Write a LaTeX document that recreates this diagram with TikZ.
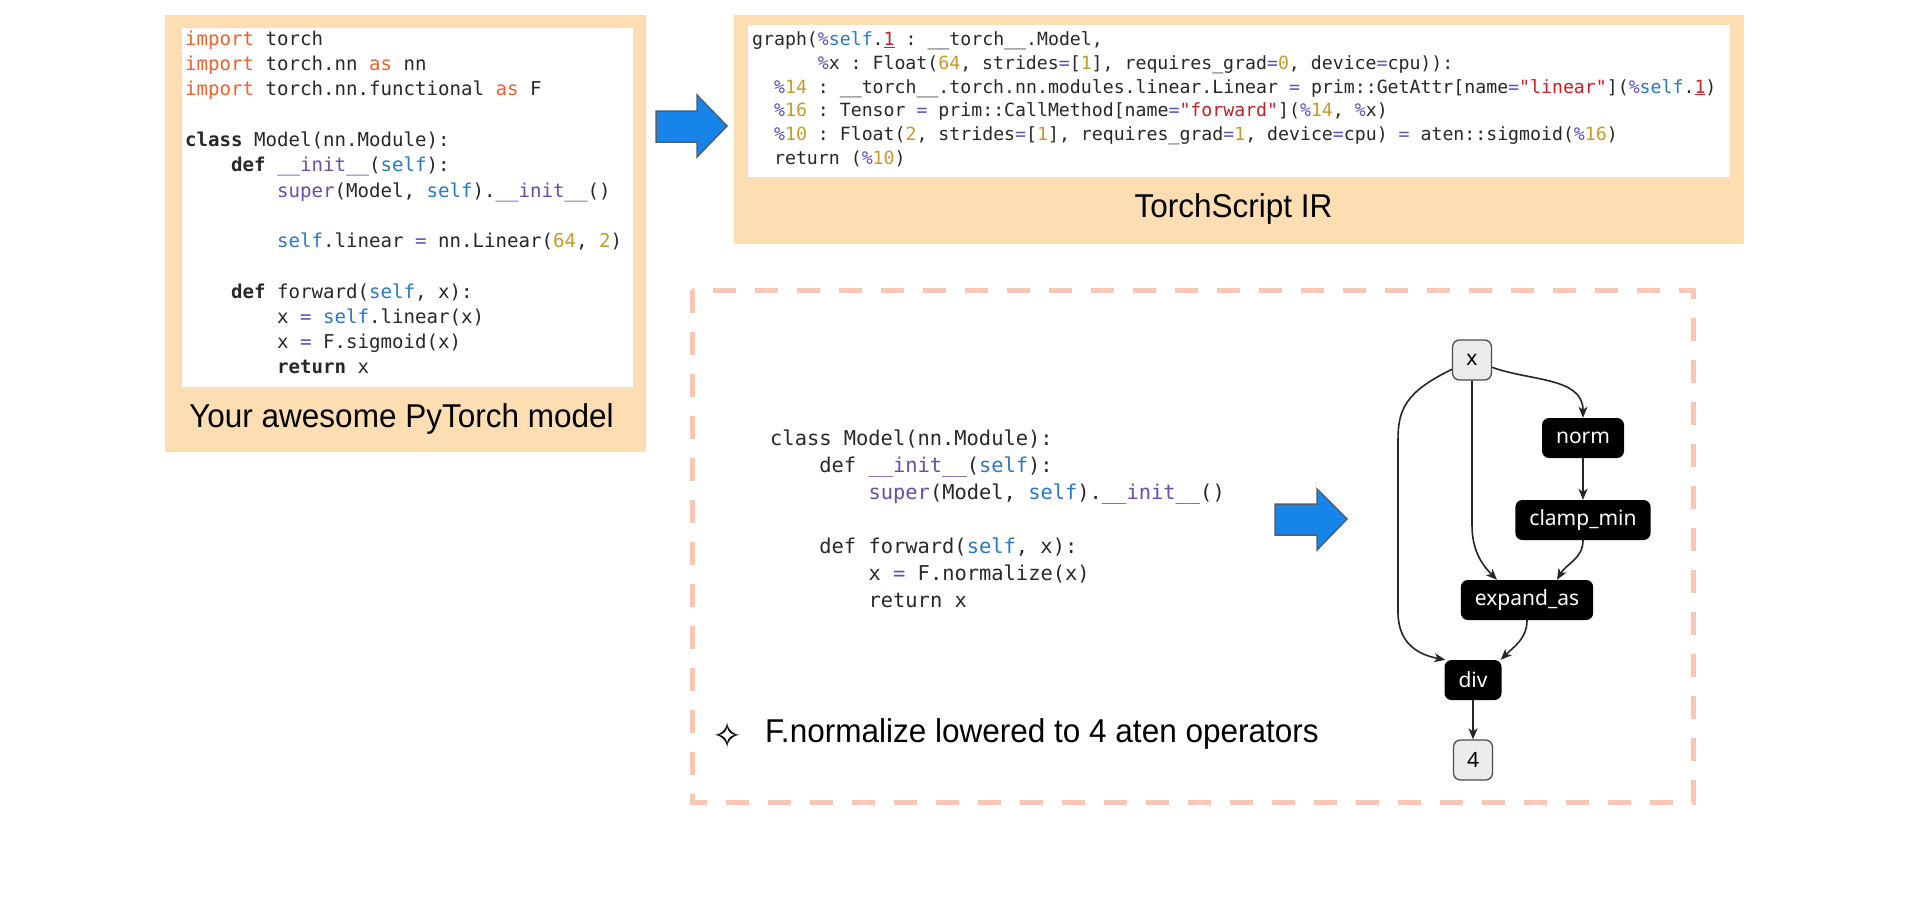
\documentclass[tikz,border=0pt]{standalone}
\usepackage{fontspec}
\usepackage{graphicx}
\setmainfont{Liberation Sans}
\setmonofont{DejaVu Sans Mono}
\newfontfamily\capfont[FakeStretch=0.955]{Liberation Sans}
\newfontfamily\gnodefont{Noto Sans}
\newfontfamily\symfont{DejaVu Sans}
\usetikzlibrary{arrows.meta}
\definecolor{peach}{RGB}{253,222,178}
\definecolor{dashc}{RGB}{249,198,182}
\definecolor{codetxt}{RGB}{40,40,40}
\definecolor{kwor}{RGB}{238,98,46}
\definecolor{purp}{RGB}{106,76,170}
\definecolor{selfb}{RGB}{40,120,200}
\definecolor{numg}{RGB}{200,155,40}
\definecolor{opc}{RGB}{90,80,190}
\definecolor{strr}{RGB}{200,30,40}
\definecolor{arrowblue}{RGB}{22,132,232}
\definecolor{arrowedge}{RGB}{80,96,112}
\definecolor{nodegray}{RGB}{236,236,236}
\newcommand\rskw[1]{\textcolor{kwor}{#1}}
\newcommand\rspur[1]{\textcolor{purp}{#1}}
\newcommand\rsblu[1]{\textcolor{selfb}{#1}}
\newcommand\rsnum[1]{\textcolor{numg}{#1}}
\newcommand\rsop[1]{\textcolor{opc}{#1}}
\newcommand\rsstr[1]{\textcolor{strr}{#1}}
\newcommand\rsul[1]{\textcolor{strr}{\underline{#1}}}
\begin{document}
\begin{tikzpicture}[x=1pt,y=1pt,
  codeL/.style={anchor=base west, inner sep=0pt, text=codetxt, font=\ttfamily\fontsize{19.1}{23}\selectfont},
  codeI/.style={anchor=base west, inner sep=0pt, text=codetxt, font=\ttfamily\fontsize{18.2}{22}\selectfont},
  codeR/.style={anchor=base west, inner sep=0pt, text=codetxt, font=\ttfamily\fontsize{20.4}{24}\selectfont},
  captext/.style={anchor=base, inner sep=0pt, text=black, font=\capfont\fontsize{33}{38}\selectfont},
  bigarrow/.style={fill=arrowblue, draw=arrowedge, line width=1.5pt, line join=miter},
  opnode/.style={fill=black, text=white, rounded corners=7pt, minimum height=40pt, inner xsep=14pt, font=\gnodefont\fontsize{21}{24}\selectfont},
  ionode/.style={fill=nodegray, draw=black!70, line width=1.3pt, text=black, rounded corners=7pt, minimum height=40pt, minimum width=39pt, inner xsep=6pt, font=\gnodefont\fontsize{21}{24}\selectfont},
  edge/.style={draw=black!85, line width=1.6pt, -{Stealth[length=11pt,width=9pt,inset=3pt]}}
]
\useasboundingbox (0,0) rectangle (1911,-897);
\fill[white] (0,0) rectangle (1911,-897);

% ---------- left box ----------
\fill[peach] (165,-15) rectangle (646,-452);
\fill[white] (182,-28) rectangle (633,-387);
\node[codeL] (lc1) at (185,-45) {\rskw{import} torch};
\node[codeL] (lc2) at (185,-70.5) {\rskw{import} torch.nn \rskw{as} nn};
\node[codeL] (lc3) at (185,-95.5) {\rskw{import} torch.nn.functional \rskw{as} F};
\node[codeL] (lc4) at (185,-146) {\textbf{class} Model(nn.Module):};
\node[codeL] (lc5) at (231,-171.5) {\textbf{def} \rspur{\_\_init\_\_}(\rsblu{self}):};
\node[codeL] (lc6) at (277,-197) {\rspur{super}(Model, \rsblu{self}).\rspur{\_\_init\_\_}()};
\node[codeL] (lc7) at (277,-247.5) {\rsblu{self}.linear \rsop{=} nn.Linear(\rsnum{64}, \rsnum{2})};
\node[codeL] (lc8) at (231,-298.5) {\textbf{def} forward(\rsblu{self}, x):};
\node[codeL] (lc9) at (277,-323.5) {x \rsop{=} \rsblu{self}.linear(x)};
\node[codeL] (lc10) at (277,-348.5) {x \rsop{=} F.sigmoid(x)};
\node[codeL] (lc11) at (277,-373.5) {\textbf{return} x};
\node[captext] (lcap) at (401.5,-427) {Your awesome PyTorch model};

% ---------- arrow 1 ----------
\path[bigarrow] (656,-111) -- (697,-111) -- (697,-95) -- (727,-126) -- (697,-157) -- (697,-142) -- (656,-142) -- cycle;

% ---------- TorchScript IR box ----------
\fill[peach] (734,-15) rectangle (1744,-244);
\fill[white] (748,-25) rectangle (1730,-177);
\node[codeI] (ir1) at (752,-45.5) {graph(\rsop{\%}\rsblu{self}.\rsul{1} : \_\_torch\_\_.Model,};
\node[codeI] (ir2) at (817.6,-69.3) {\rsop{\%}x : Float(\rsnum{64}, strides\rsop{=}[\rsnum{1}], requires\_grad\rsop{=}\rsnum{0}, device\rsop{=}cpu)):};
\node[codeI] (ir3) at (773.9,-93.1) {\rsop{\%}\rsnum{14} : \_\_torch\_\_.torch.nn.modules.linear.Linear \rsop{=} prim::GetAttr[name\rsop{=}\rsstr{"linear"}](\rsop{\%}\rsblu{self}.\rsul{1})};
\node[codeI] (ir4) at (773.9,-116.9) {\rsop{\%}\rsnum{16} : Tensor \rsop{=} prim::CallMethod[name\rsop{=}\rsstr{"forward"}](\rsop{\%}\rsnum{14}, \rsop{\%}x)};
\node[codeI] (ir5) at (773.9,-140.7) {\rsop{\%}\rsnum{10} : Float(\rsnum{2}, strides\rsop{=}[\rsnum{1}], requires\_grad\rsop{=}\rsnum{1}, device\rsop{=}cpu) \rsop{=} aten::sigmoid(\rsop{\%}\rsnum{16})};
\node[codeI] (ir6) at (773.9,-164.5) {return (\rsop{\%}\rsnum{10})};
\node[captext] (ircap) at (1233.5,-217) {TorchScript IR};

% ---------- dashed box ----------
\draw[dashc, line width=5pt, dash pattern=on 23pt off 19pt] (692,-290) rectangle (1693,-802);
\node[codeR] (rc1) at (770,-445) {class Model(nn.Module):};
\node[codeR] (rc2) at (819.2,-472) {def \rspur{\_\_init\_\_}(\rsblu{self}):};
\node[codeR] (rc3) at (868.4,-499) {\rspur{super}(Model, \rsblu{self}).\rspur{\_\_init\_\_}()};
\node[codeR] (rc4) at (819.2,-553) {def forward(\rsblu{self}, x):};
\node[codeR] (rc5) at (868.4,-580) {x \rsop{=} F.normalize(x)};
\node[codeR] (rc6) at (868.4,-607) {return x};

% ---------- arrow 2 ----------
\path[bigarrow] (1275,-504) -- (1317,-504) -- (1317,-489) -- (1347,-519) -- (1317,-550) -- (1317,-535) -- (1275,-535) -- cycle;

% ---------- caption ----------
\node[anchor=center, inner sep=0pt, font=\symfont\fontsize{36}{40}\selectfont] (star) at (728,-735) {✧};
\node[captext, anchor=base west] (ncap) at (765,-742) {F.normalize lowered to 4 aten operators};

% ---------- graph ----------
\node[ionode] (x) at (1472,-360) {x};
\node[opnode] (norm) at (1583,-438) {norm};
\node[opnode] (clamp) at (1583,-520) {clamp\_min};
\node[opnode] (ex) at (1527,-600) {expand\_as};
\node[opnode] (div) at (1473,-680) {div};
\node[ionode] (four) at (1473,-760) {4};

\draw[edge] (x.205) .. controls (1405,-392) and (1398,-410) .. (1398,-440) -- (1398,-612) .. controls (1398,-645) and (1420,-655) .. ([xshift=1pt]div.north west);
\draw[edge] (x.south) -- (1472,-525) to[out=-90,in=135] ([xshift=-30pt]ex.north);
\draw[edge] (x.-20) to[out=-20,in=90] (norm.north);
\draw[edge] (norm) -- (clamp);
\draw[edge] (clamp.south) to[out=-90,in=60] ([xshift=30pt]ex.north);
\draw[edge] (ex.south) to[out=-90,in=45] ([xshift=-1pt]div.north east);
\draw[edge] (div) -- (four);
\end{tikzpicture}
\end{document}
